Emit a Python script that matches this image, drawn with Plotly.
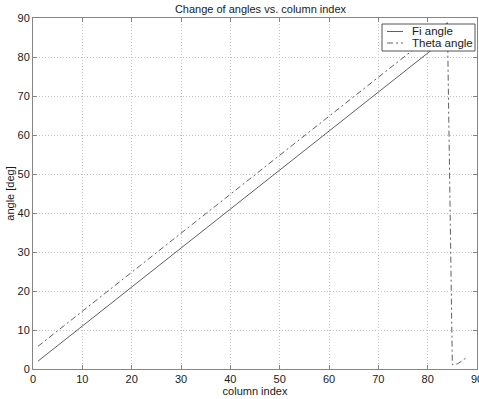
import plotly.graph_objects as go

column_index = list(range(1, 89))
fi_angle = [2, 3, 4, 5, 6, 7, 8, 9, 10, 11,
            12, 13, 14, 15, 16, 17, 18, 19, 20, 21,
            22, 23, 24, 25, 26, 27, 28, 29, 30, 31,
            32, 33, 34, 35, 36, 37, 38, 39, 40, 41,
            42, 43, 44, 45, 46, 47, 48, 49, 50, 51,
            52, 53, 54, 55, 56, 57, 58, 59, 60, 61,
            62, 63, 64, 65, 66, 67, 68, 69, 70, 71,
            72, 73, 74, 75, 76, 77, 78, 79, 80, 81,
            82, 83, 84, 85]
theta_angle = [5.8, 6.8, 7.8, 8.8, 9.8, 10.8, 11.8, 12.8, 13.8, 14.8,
               15.8, 16.8, 17.8, 18.8, 19.8, 20.8, 21.8, 22.8, 23.8, 24.8,
               25.8, 26.8, 27.8, 28.8, 29.8, 30.8, 31.8, 32.8, 33.8, 34.8,
               35.8, 36.8, 37.8, 38.8, 39.8, 40.8, 41.8, 42.8, 43.8, 44.8,
               45.8, 46.8, 47.8, 48.8, 49.8, 50.8, 51.8, 52.8, 53.8, 54.8,
               55.8, 56.8, 57.8, 58.8, 59.8, 60.8, 61.8, 62.8, 63.8, 64.8,
               65.8, 66.8, 67.8, 68.8, 69.8, 70.8, 71.8, 72.8, 73.8, 74.8,
               75.8, 76.8, 77.8, 78.8, 79.8, 80.8, 81.8, 82.8, 83.8, 84.8,
               85.8, 86.8, 87.8, 88.8, 1.1, 1.3, 2.1, 3.1]
series_names = ["Fi angle", "Theta angle"]
x_ticks = [0, 10, 20, 30, 40, 50, 60, 70, 80, 90]
y_ticks = [0, 10, 20, 30, 40, 50, 60, 70, 80, 90]

font = "Liberation Sans, Arial, sans-serif"
line_col = "#606060"
axis_col = "#858585"
txt_col = "#1a1a1a"
dashdot = "6px,3px,2px,3px"

fig = go.Figure()
fig.add_trace(go.Scatter(x=column_index[:len(fi_angle)], y=fi_angle, mode="lines",
                         name=series_names[0], line=dict(color=line_col, width=1)))
fig.add_trace(go.Scatter(x=column_index[:len(theta_angle)], y=theta_angle, mode="lines",
                         name=series_names[1],
                         line=dict(color=line_col, width=1, dash=dashdot)))

axis_common = dict(showline=True, linecolor=axis_col, linewidth=1, mirror="ticks",
                   ticks="inside", ticklen=4, tickcolor=axis_col,
                   showgrid=True, gridcolor="#c4c4c4", griddash="1px,2px", gridwidth=1,
                   zeroline=False, ticklabeloverflow="allow",
                   tickfont=dict(family=font, size=11, color=txt_col))

# custom MATLAB-like legend box (paper coordinates)
L, R, T, B = 33, 2, 18, 30
W, H = 479, 399
pw, ph = W - L - R, H - T - B


def px(x):
    return (x - L) / pw


def py(y):
    return (H - B - y) / ph


shapes = [dict(type="rect", xref="paper", yref="paper", layer="above",
               x0=px(382), x1=px(475), y0=py(51), y1=py(24),
               line=dict(color="#555555", width=1), fillcolor="white")]
annotations = []
rows_y = [31.5, 43]
dashes = ["solid", dashdot]
for name, ry, dsh in zip(series_names, rows_y, dashes):
    shapes.append(dict(type="line", xref="paper", yref="paper", layer="above",
                       x0=px(387), x1=px(403), y0=py(ry), y1=py(ry),
                       line=dict(color=line_col, width=1, dash=dsh)))
    annotations.append(dict(text=name, xref="paper", yref="paper", x=px(410), y=py(ry),
                            xanchor="left", yanchor="middle", showarrow=False,
                            font=dict(family=font, size=11.5, color=txt_col)))

fig.update_layout(
    width=W, height=H,
    margin=dict(l=L, r=R, t=T, b=B, autoexpand=False),
    paper_bgcolor="white", plot_bgcolor="white",
    showlegend=False,
    title=dict(text="Change of angles vs. column index", xref="paper", x=px(260.5),
               xanchor="center", yref="container", y=1 - 9.5 / H, yanchor="middle",
               font=dict(family=font, size=11, color=txt_col)),
    xaxis=dict(range=[0, 90], tickvals=x_ticks,
               title=dict(text="column index", standoff=0,
                          font=dict(family=font, size=11, color=txt_col)),
               **axis_common),
    yaxis=dict(range=[0, 90], tickvals=y_ticks,
               title=dict(text="angle [deg]", standoff=0,
                          font=dict(family=font, size=11, color=txt_col)),
               **axis_common),
    shapes=shapes,
    annotations=annotations,
)

fig.write_html("out.html", config={"displayModeBar": False},
               post_script="document.body.style.margin='0';")
